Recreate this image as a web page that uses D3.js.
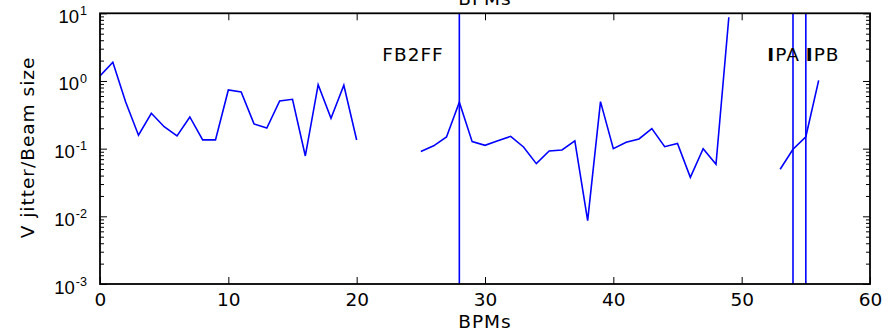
<!DOCTYPE html>
<html>
<head>
<meta charset="utf-8">
<script src="https://cdn.jsdelivr.net/npm/d3@7"></script>
<style>
  html, body { margin: 0; padding: 0; background: #fff; }
  svg { display: block; font-family: "DejaVu Sans", sans-serif; }
</style>
</head>
<body>
<svg id="chart" width="895" height="332"></svg>
<script>
// ---- data ----
const jitter = [
  1.19, 1.89, 0.49, 0.158, 0.333, 0.211, 0.154, 0.294, 0.135, 0.135,
  0.736, 0.69, 0.232, 0.202, 0.507, 0.536, 0.078, 0.88, 0.281, 0.863,
  0.134, null, null, null, null, 0.0908, 0.110, 0.149, 0.484, 0.127,
  0.112, 0.131, 0.152, 0.106, 0.060, 0.0925, 0.0957, 0.130, 0.00863, 0.495,
  0.100, 0.124, 0.139, 0.198, 0.107, 0.119, 0.0376, 0.100, 0.0587, 8.73,
  null, null, null, 0.0496, 0.098, 0.150, 1.02
];
const bpmIndex = jitter.map((_, i) => i);
const markerLines = [28, 54, 55];
const markerNames = ["FB2FF", "IPA", "IPB"];
const markerLabelX = [22, 52, 55];
const markerLabelY = [2, 2, 2];
const xTicks = [0, 10, 20, 30, 40, 50, 60];
const yExponents = [-3, -2, -1, 0, 1];
const xLabel = "BPMs";
const yLabel = "V jitter/Beam size";
const topLabel = "BPMs";

(function () {
// ---- layout ----
const pL = 100, pR = 870, pT = 13.3, pB = 284;
const svg = d3.select("#chart");
const x = d3.scaleLinear().domain([0, 60]).range([pL, pR]);
const y = d3.scaleLog().domain([1e-3, 1e1]).range([pB, pT]);
const fs = 18.5;

// minor log ticks
const minor = [];
for (let e = -3; e < 1; e++) for (let k = 2; k <= 9; k++) minor.push(k * Math.pow(10, e));
const major = yExponents.map(e => Math.pow(10, e));

// clip
svg.append("defs").append("clipPath").attr("id", "clip")
  .append("rect").attr("x", pL).attr("y", pT).attr("width", pR - pL).attr("height", pB - pT);

const plot = svg.append("g").attr("clip-path", "url(#clip)");

// data line
const line = d3.line()
  .defined(d => d[1] != null)
  .x(d => x(d[0]))
  .y(d => y(d[1]));
plot.append("path")
  .datum(bpmIndex.map((b, i) => [b, jitter[i]]))
  .attr("fill", "none")
  .attr("stroke", "#0000ff")
  .attr("stroke-width", 1.6)
  .attr("d", line);

// marker vertical lines
plot.selectAll("line.marker").data(markerLines).enter().append("line")
  .attr("class", "marker")
  .attr("x1", d => x(d)).attr("x2", d => x(d))
  .attr("y1", pT).attr("y2", pB)
  .attr("stroke", "#0000ff").attr("stroke-width", 1.6);

// marker labels
svg.selectAll("text.mlabel").data(markerNames).enter().append("text")
  .attr("class", "mlabel")
  .attr("x", (d, i) => x(markerLabelX[i]))
  .attr("y", (d, i) => y(markerLabelY[i]))
  .attr("font-size", fs)
  .attr("letter-spacing", 1)
  .attr("fill", "#000")
  .each(function (d) {
    const t = d3.select(this);
    if (d[0] === "I") {
      t.append("tspan").attr("font-weight", "bold").text("I");
      t.append("tspan").text(d.slice(1));
    } else {
      t.text(d);
    }
  });

function style(g) {
  g.select(".domain").remove();
  g.selectAll(".tick line").attr("stroke", "#000").attr("stroke-width", 1);
}

// bottom x axis
const gx = svg.append("g").attr("transform", `translate(0,${pB})`)
  .call(d3.axisBottom(x).tickValues(xTicks).tickSize(-7).tickPadding(9).tickFormat(d3.format("d")));
style(gx);
gx.selectAll("text").attr("font-size", fs).attr("font-family", "DejaVu Sans").attr("fill", "#000");

// top x axis
const gxt = svg.append("g").attr("transform", `translate(0,${pT})`)
  .call(d3.axisTop(x).tickValues(xTicks).tickSize(-7).tickFormat(""));
style(gxt);

// left y axis major
const gy = svg.append("g").attr("transform", `translate(${pL},0)`)
  .call(d3.axisLeft(y).tickValues(major).tickSize(-7).tickFormat(""));
style(gy);
gy.selectAll(".tick").each(function(d) {
  const e = Math.round(Math.log10(d));
  const t = d3.select(this).append("text")
    .attr("x", -13).attr("y", 9)
    .attr("text-anchor", "end").attr("font-size", fs).attr("fill", "#000");
  t.append("tspan").text("10");
  t.append("tspan").attr("dy", -7.7).attr("dx", 1).attr("font-size", fs * 0.68)
    .text(String(e));
});
const gym = svg.append("g").attr("transform", `translate(${pL},0)`)
  .call(d3.axisLeft(y).tickValues(minor).tickSize(-4).tickFormat(""));
style(gym);

// right y axis
const gyr = svg.append("g").attr("transform", `translate(${pR},0)`)
  .call(d3.axisRight(y).tickValues(major).tickSize(-7).tickFormat(""));
style(gyr);
const gyrm = svg.append("g").attr("transform", `translate(${pR},0)`)
  .call(d3.axisRight(y).tickValues(minor).tickSize(-4).tickFormat(""));
style(gyrm);

// frame
svg.append("rect")
  .attr("x", pL).attr("y", pT).attr("width", pR - pL).attr("height", pB - pT)
  .attr("fill", "none").attr("stroke", "#000").attr("stroke-width", 1.8);

// labels
svg.append("text").attr("x", (pL + pR) / 2).attr("y", 328)
  .attr("text-anchor", "middle").attr("font-size", fs).attr("letter-spacing", 1)
  .attr("fill", "#000").text(xLabel);
svg.append("text").attr("x", (pL + pR) / 2).attr("y", 5)
  .attr("text-anchor", "middle").attr("font-size", fs).attr("letter-spacing", 1)
  .attr("fill", "#000").text(topLabel);
svg.append("text")
  .attr("transform", `translate(33.5,${147.5}) rotate(-90)`)
  .attr("text-anchor", "middle").attr("font-size", fs).attr("letter-spacing", 1)
  .attr("fill", "#000").text(yLabel);
})();
</script>
</body>
</html>
